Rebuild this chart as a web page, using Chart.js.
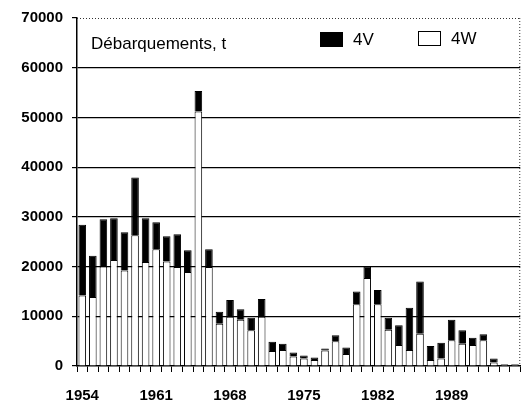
<!DOCTYPE html>
<html>
<head>
<meta charset="utf-8">
<script src="https://cdn.jsdelivr.net/npm/chart.js@4/dist/chart.umd.min.js"></script>
<style>
  html, body { margin: 0; padding: 0; background: #fff; }
  #wrap { width: 530px; height: 402px; }
</style>
</head>
<body>
<div id="wrap"><canvas id="c" width="530" height="402"></canvas></div>
<script>
const years = [1954,1955,1956,1957,1958,1959,1960,1961,1962,1963,1964,1965,1966,1967,1968,1969,1970,1971,1972,1973,1974,1975,1976,1977,1978,1979,1980,1981,1982,1983,1984,1985,1986,1987,1988,1989,1990,1991,1992,1993,1994,1995];
const values4W = [14200,13900,20000,21300,19200,26300,20900,23500,21000,19900,18900,51200,19900,8500,9900,9300,7200,9900,3000,3200,1900,1500,1200,3100,5000,2400,12400,17700,12400,7300,4200,3200,6500,1200,1500,5200,4500,4200,5200,700,300,300];
const values4V = [14200,8300,9500,8400,7700,11600,8800,5400,5100,6600,4400,4100,3600,2400,3400,2100,2500,3600,1900,1300,800,600,500,400,1200,1300,2600,2300,2900,2400,4000,8500,10500,2800,3200,4100,2700,1500,1200,800,100,100];
const xTickYears = [1954,1961,1968,1975,1982,1989];
const yTicks = [0,10000,20000,30000,40000,50000,60000,70000];
const chartTitle = 'Débarquements, t';

const FONT = "'Liberation Sans', Arial, Helvetica, sans-serif";

const overlay = {
  id: 'overlay',
  afterDraw(chart) {
    const ctx = chart.ctx;
    const a = chart.chartArea;
    ctx.save();
    ctx.strokeStyle = '#333';
    ctx.lineWidth = 1;
    ctx.setLineDash([1, 2]);
    ctx.beginPath();
    ctx.moveTo(a.left, a.top + 0.5);
    ctx.lineTo(a.right, a.top + 0.5);
    ctx.moveTo(a.right - 0.5, a.top);
    ctx.lineTo(a.right - 0.5, a.bottom);
    ctx.stroke();
    ctx.setLineDash([]);
    ctx.fillStyle = '#000';
    ctx.font = '17px ' + FONT;
    ctx.textBaseline = 'middle';
    ctx.textAlign = 'left';
    ctx.fillText(chartTitle, 91, 44);
    const ds = chart.data.datasets;
    const items = [
      { d: ds[1], bx: 320, by: 32 },
      { d: ds[0], bx: 418, by: 31 }
    ];
    items.forEach(it => {
      ctx.fillStyle = it.d.backgroundColor;
      ctx.fillRect(it.bx, it.by, 22, 14);
      ctx.strokeStyle = '#000';
      ctx.lineWidth = 1;
      ctx.strokeRect(it.bx + 0.5, it.by + 0.5, 22, 14);
      ctx.fillStyle = '#000';
      ctx.font = '17px ' + FONT;
      ctx.fillText(it.d.label, it.bx + 33, it.by + 8);
    });
    ctx.restore();
  }
};

new Chart(document.getElementById('c'), {
  type: 'bar',
  data: {
    labels: years,
    datasets: [
      { label: '4W', data: values4W, backgroundColor: '#ffffff', borderColor: '#000000', borderWidth: 1, barPercentage: 0.72, categoryPercentage: 1.0 },
      { label: '4V', data: values4V, backgroundColor: '#000000', borderColor: '#000000', borderWidth: 1, barPercentage: 0.72, categoryPercentage: 1.0 }
    ]
  },
  options: {
    responsive: false,
    animation: false,
    layout: { padding: { top: 18, right: 1, left: 0, bottom: 0 } },
    plugins: { legend: { display: false }, tooltip: { enabled: false }, title: { display: false } },
    scales: {
      x: {
        stacked: true,
        afterFit(s) { s.height = 36; },
        grid: { display: true, drawOnChartArea: false, drawTicks: true, tickLength: 6, tickColor: '#000', offset: true },
        border: { display: true, color: '#000', width: 1.5 },
        ticks: {
          autoSkip: false, maxRotation: 0, minRotation: 0, padding: 15,
          color: '#000', font: { family: FONT, size: 15, weight: 'bold' },
          callback(v, i) { const y = years[i]; return xTickYears.includes(y) ? String(y) : ''; }
        }
      },
      y: {
        stacked: true,
        z: 1,
        min: 0, max: 70000,
        afterFit(s) { s.width = 77; },
        afterBuildTicks(s) { s.ticks = yTicks.map(v => ({ value: v })); },
        grid: {
          drawTicks: true, tickLength: 5, tickColor: '#000', lineWidth: 1.2,
          color(c) { return (c.tick && c.tick.value === 70000) || (c.tick && c.tick.value === 0) ? 'rgba(0,0,0,0)' : '#000'; }
        },
        border: { display: true, color: '#000', width: 1.5 },
        ticks: {
          padding: 9, color: '#000', font: { family: FONT, size: 15, weight: 'bold' },
          callback(v) { return String(v); }
        }
      }
    }
  },
  plugins: [overlay]
});
</script>
</body>
</html>
